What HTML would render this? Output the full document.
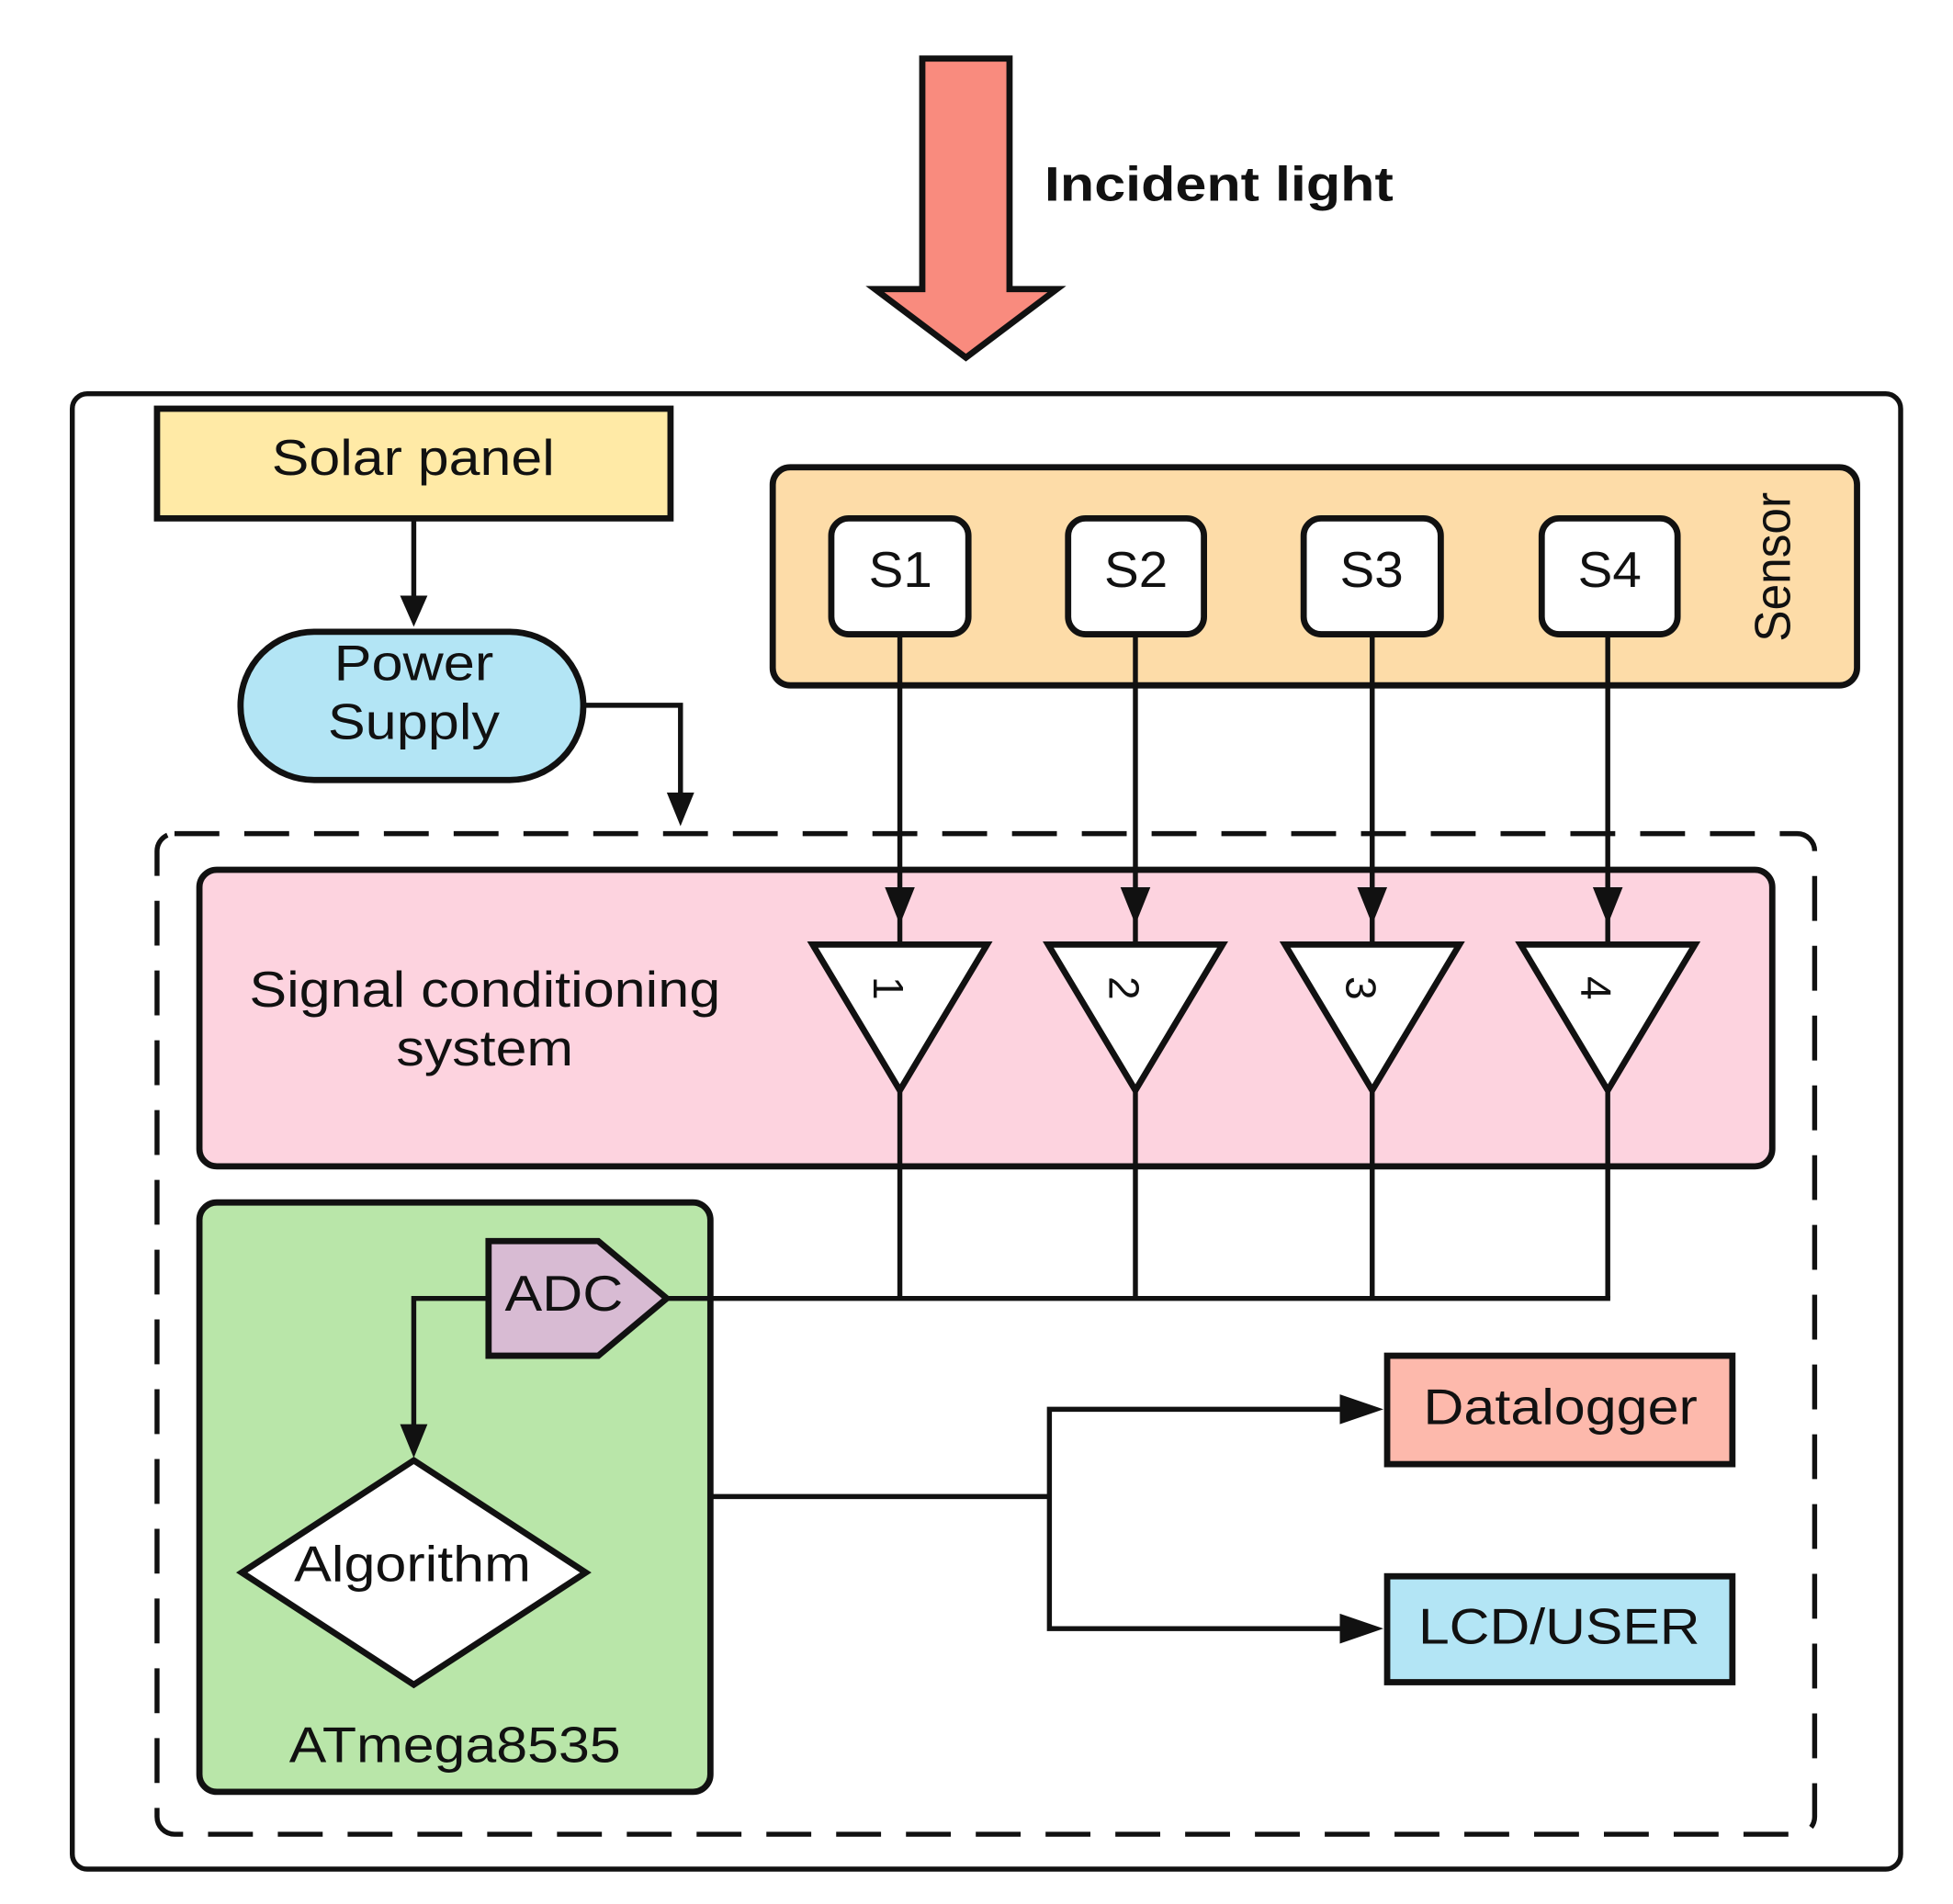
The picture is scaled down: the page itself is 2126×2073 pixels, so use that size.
<!DOCTYPE html>
<html><head><meta charset="utf-8"><style>
html,body{margin:0;padding:0;background:#fff;}
svg{display:block;}
text{font-family:"Liberation Sans",Arial,sans-serif;fill:#111;}
</style></head><body>
<svg width="2126" height="2073" viewBox="0 0 1567 1528" preserveAspectRatio="none" xmlns="http://www.w3.org/2000/svg">
<!-- incident arrow -->
<polygon points="740,47 810,47 810,232 848,232 775,287 702,232 740,232" fill="#F98B7E" stroke="#111" stroke-width="5" stroke-linejoin="miter"/>
<text x="838" y="161" font-size="39" font-weight="bold" textLength="280" lengthAdjust="spacingAndGlyphs">Incident light</text>
<!-- outer -->
<rect x="58" y="316" width="1467" height="1184" rx="12" fill="none" stroke="#111" stroke-width="4"/>
<!-- solar panel -->
<rect x="126" y="328" width="412" height="88" fill="#FFEAA6" stroke="#111" stroke-width="5"/>
<text x="218" y="381" font-size="40" textLength="227" lengthAdjust="spacingAndGlyphs">Solar panel</text>
<line x1="332" y1="416" x2="332" y2="480" stroke="#111" stroke-width="4"/>
<polygon points="321,478 343,478 332,503" fill="#111"/>
<!-- power supply -->
<rect x="193" y="507" width="275" height="119" rx="59" fill="#B3E5F5" stroke="#111" stroke-width="5"/>
<text x="268" y="546" font-size="40" textLength="128" lengthAdjust="spacingAndGlyphs">Power</text>
<text x="263" y="593" font-size="40" textLength="138" lengthAdjust="spacingAndGlyphs">Supply</text>
<polyline points="468,566 546,566 546,640" fill="none" stroke="#111" stroke-width="4"/>
<polygon points="535,636 557,636 546,663" fill="#111"/>
<!-- sensor -->
<rect x="620" y="375" width="870" height="175" rx="14" fill="#FDDCA8" stroke="#111" stroke-width="5"/>
<text transform="translate(1436,515) rotate(-90)" font-size="40" textLength="120" lengthAdjust="spacingAndGlyphs">Sensor</text>
<g stroke="#111" stroke-width="5" fill="#fff">
<rect x="667" y="416" width="110" height="93" rx="14"/>
<rect x="857" y="416" width="109" height="93" rx="14"/>
<rect x="1046" y="416" width="110" height="93" rx="14"/>
<rect x="1237" y="416" width="109" height="93" rx="14"/>
</g>
<g font-size="40">
<text x="697" y="471" textLength="51" lengthAdjust="spacingAndGlyphs">S1</text>
<text x="886" y="471" textLength="51" lengthAdjust="spacingAndGlyphs">S2</text>
<text x="1075" y="471" textLength="51" lengthAdjust="spacingAndGlyphs">S3</text>
<text x="1266" y="471" textLength="51" lengthAdjust="spacingAndGlyphs">S4</text>
</g>
<!-- dashed -->
<rect x="126" y="669" width="1330" height="803" rx="14" fill="none" stroke="#111" stroke-width="4" stroke-dasharray="36,20"/>
<!-- pink -->
<rect x="160" y="698" width="1262" height="238" rx="14" fill="#FDD3DF" stroke="#111" stroke-width="5"/>
<text x="200" y="808" font-size="40" textLength="378" lengthAdjust="spacingAndGlyphs">Signal conditioning</text>
<text x="318" y="855" font-size="40" textLength="142" lengthAdjust="spacingAndGlyphs">system</text>
<!-- green -->
<rect x="160" y="965" width="410" height="473" rx="14" fill="#B9E6A9" stroke="#111" stroke-width="5"/>
<!-- sensor lines and triangles -->
<g stroke="#111" stroke-width="4">
<line x1="722" y1="509" x2="722" y2="1042"/><line x1="911" y1="509" x2="911" y2="1042"/>
<line x1="1101" y1="509" x2="1101" y2="1042"/><line x1="1290" y1="509" x2="1290" y2="1042"/>
<line x1="535" y1="1042" x2="1292" y2="1042"/>
</g>
<g fill="#111">
<polygon points="710,712 734,712 722,742"/><polygon points="899,712 923,712 911,742"/>
<polygon points="1089,712 1113,712 1101,742"/><polygon points="1278,712 1302,712 1290,742"/>
</g>
<g fill="#fff" stroke="#111" stroke-width="5" stroke-linejoin="miter">
<polygon points="652,758 792,758 722,875"/><polygon points="841,758 981,758 911,875"/>
<polygon points="1031,758 1171,758 1101,875"/><polygon points="1220,758 1360,758 1290,875"/>
</g>
<g font-size="34" text-anchor="middle" style="font-family:'Liberation Serif',serif">
<text transform="translate(701,793) rotate(90)">1</text>
<text transform="translate(890,793) rotate(90)">2</text>
<text transform="translate(1080,793) rotate(90)">3</text>
<text transform="translate(1269,793) rotate(90)">4</text>
</g>
<!-- ADC -->
<polygon points="392,996 480,996 535,1042 480,1088 392,1088" fill="#D8BBD3" stroke="#111" stroke-width="5"/>
<text x="405" y="1052" font-size="40" textLength="95" lengthAdjust="spacingAndGlyphs">ADC</text>
<polyline points="392,1042 332,1042 332,1145" fill="none" stroke="#111" stroke-width="4"/>
<polygon points="321,1143 343,1143 332,1170" fill="#111"/>
<!-- diamond -->
<polygon points="332,1172 470,1262 332,1352 194,1262" fill="#fff" stroke="#111" stroke-width="5"/>
<text x="236" y="1269" font-size="40" textLength="190" lengthAdjust="spacingAndGlyphs">Algorithm</text>
<text x="232" y="1414" font-size="40" textLength="266" lengthAdjust="spacingAndGlyphs">ATmega8535</text>
<!-- outputs -->
<polyline points="570,1201 842,1201" fill="none" stroke="#111" stroke-width="4"/>
<polyline points="1085,1131 842,1131 842,1307 1085,1307" fill="none" stroke="#111" stroke-width="4"/>
<polygon points="1075,1119 1110,1131 1075,1143" fill="#111"/>
<polygon points="1075,1295 1110,1307 1075,1319" fill="#111"/>
<rect x="1113" y="1088" width="277" height="87" fill="#FDB9AC" stroke="#111" stroke-width="5"/>
<text x="1142" y="1143" font-size="40" textLength="220" lengthAdjust="spacingAndGlyphs">Datalogger</text>
<rect x="1113" y="1265" width="277" height="85" fill="#B3E5F5" stroke="#111" stroke-width="5"/>
<text x="1138" y="1319" font-size="40" textLength="226" lengthAdjust="spacingAndGlyphs">LCD/USER</text>
</svg>
</body></html>
